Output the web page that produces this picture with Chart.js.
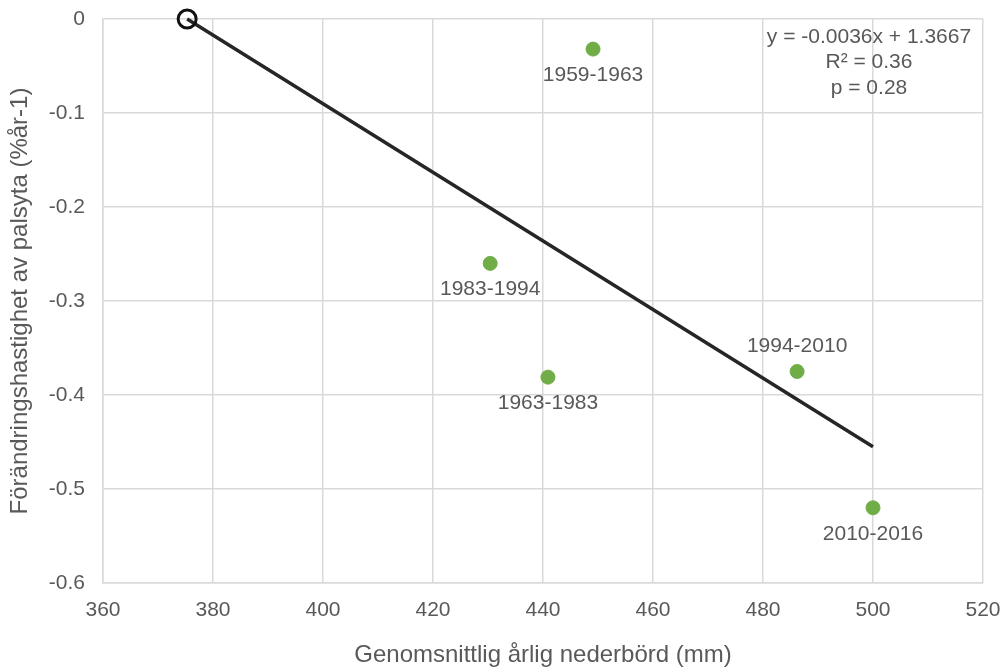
<!DOCTYPE html>
<html>
<head>
<meta charset="utf-8">
<script src="https://cdn.jsdelivr.net/npm/chart.js@4/dist/chart.umd.min.js"></script>
<style>
  html, body { margin: 0; padding: 0; background: #fff; }
  #wrap { width: 1002px; height: 670px; }
</style>
</head>
<body>
<div id="wrap"><canvas id="chart" width="1002" height="670"></canvas></div>
<script>
// Perioder och värden
const PERIODER   = ['1959-1963', '1983-1994', '1963-1983', '1994-2010', '2010-2016'];
const NEDERBORD  = [449.1, 430.4, 440.9, 486.2, 500.0];
const FORANDRING = [-0.032, -0.260, -0.381, -0.375, -0.520];
const ETIKETT    = ['under', 'under', 'under', 'over', 'under'];

// Trendlinje (ändpunkter avlästa)
const TREND_X = [375.3, 500.0];
const TREND_Y = [0, -0.455];

const EKVATION = ['y = -0.0036x + 1.3667', 'R² = 0.36', 'p = 0.28'];

const FONT = "'Liberation Sans', Arial, sans-serif";
const TEXT = '#595959';
const GRID = '#d9d9d9';

const punktEtiketter = {
  id: 'punktEtiketter',
  afterDatasetsDraw(chart) {
    const ctx = chart.ctx;
    const meta = chart.getDatasetMeta(1);
    ctx.save();
    ctx.font = '21px ' + FONT;
    ctx.fillStyle = TEXT;
    ctx.textAlign = 'center';
    ctx.textBaseline = 'middle';
    meta.data.forEach((p, i) => {
      const dy = ETIKETT[i] === 'over' ? -25 : 26;
      ctx.fillText(PERIODER[i], p.x, p.y + dy);
    });
    // ekvation
    const a = chart.chartArea;
    const cx = a.right - 114;
    EKVATION.forEach((t, i) => ctx.fillText(t, cx, a.top + 18 + i * 25.5));
    ctx.restore();
  }
};

new Chart(document.getElementById('chart'), {
  type: 'scatter',
  data: {
    datasets: [
      {
        label: 'Trend',
        type: 'line',
        data: TREND_X.map((x, i) => ({ x, y: TREND_Y[i] })),
        borderColor: '#262626',
        borderWidth: 3.5,
        pointRadius: [9, 0],
        pointBorderWidth: 3,
        pointBorderColor: '#111',
        pointBackgroundColor: 'rgba(0,0,0,0)',
        fill: false,
        clip: false,
        order: 2
      },
      {
        label: 'Perioder',
        data: NEDERBORD.map((x, i) => ({ x, y: FORANDRING[i] })),
        backgroundColor: '#70ad47',
        borderColor: '#70ad47',
        pointRadius: 7,
        order: 1
      }
    ]
  },
  options: {
    responsive: false,
    animation: false,
    layout: { padding: { left: 0, right: 19, top: 19, bottom: 0 } },
    plugins: { legend: { display: false }, tooltip: { enabled: false } },
    scales: {
      x: {
        type: 'linear',
        min: 360, max: 520,
        ticks: { stepSize: 20, color: TEXT, font: { size: 21, family: FONT }, padding: 15 },
        grid: { color: GRID, lineWidth: 1.5, drawTicks: false },
        border: { color: GRID, width: 1.5 },
        title: { display: true, text: 'Genomsnittlig årlig nederbörd (mm)', color: TEXT,
                 font: { size: 24, family: FONT }, padding: { top: 0, bottom: 0 } },
        afterFit: s => { s.height = 87; s.paddingLeft = 0; s.paddingRight = 0; }
      },
      y: {
        min: -0.6, max: 0,
        ticks: { stepSize: 0.1, color: TEXT, font: { size: 21, family: FONT }, padding: 18,
                 callback: v => Number(v.toFixed(1)).toString() },
        grid: { color: GRID, lineWidth: 1.5, drawTicks: false },
        border: { color: GRID, width: 1.5 },
        title: { display: true, text: 'Förändringshastighet av palsyta (%år-1)', color: TEXT,
                 font: { size: 24, family: FONT }, padding: { top: 6, bottom: 0 } },
        afterFit: s => { s.width = 103; s.paddingTop = 0; s.paddingBottom = 0; }
      }
    }
  },
  plugins: [punktEtiketter]
});
</script>
</body>
</html>
